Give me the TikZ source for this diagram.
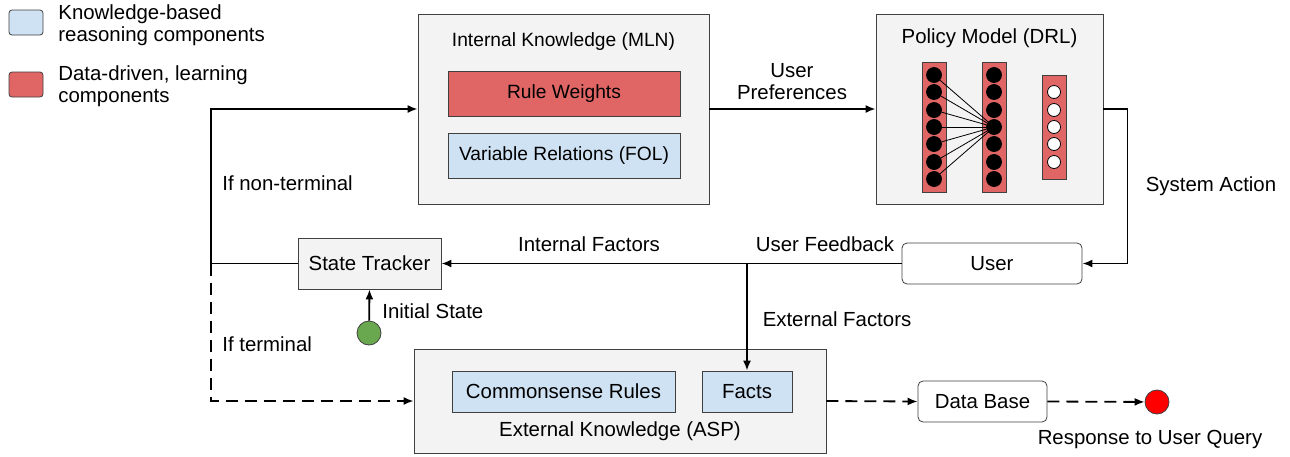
\documentclass[tikz,border=0pt]{standalone}
\usepackage{fontspec}
\setmainfont{Liberation Sans}
\usetikzlibrary{arrows.meta}
\definecolor{panelgray}{HTML}{F3F3F3}
\definecolor{learnred}{HTML}{E06666}
\definecolor{kbblue}{HTML}{CFE2F3}
\definecolor{startgreen}{HTML}{6AA84F}
\definecolor{edgegray}{HTML}{404040}

\begin{document}
\begin{tikzpicture}[x=.5pt,y=-.5pt]
\tikzstyle{every node}=[inner sep=1pt, font=\fontsize{10.2}{11.2}\selectfont]
\tikzstyle{iktext}=[font=\fontsize{9.6}{11}\selectfont]
\tikzstyle{panel}=[draw=edgegray, fill=panelgray, rectangle]
\tikzstyle{redbox}=[draw=edgegray, fill=learnred, rectangle]
\tikzstyle{bluebox}=[draw=edgegray, fill=kbblue, rectangle]
\tikzstyle{endbox}=[draw=edgegray, fill=white, rectangle, rounded corners=2.5pt]
\tikzstyle{hid}=[draw, circle, fill=black, minimum size=7.5pt, inner sep=0pt]
\tikzstyle{outc}=[draw, circle, fill=white, minimum size=6.5pt, inner sep=0pt]
\tikzstyle{arr}=[line width=.9pt, -{Latex[length=5pt,width=4pt]}]
\useasboundingbox (0,0) rectangle (1290,456);
% legend
\draw (26,22.5) node (kbkey) [bluebox, rounded corners=1.5pt, minimum width=17pt, minimum height=12.5pt] {};
\draw (56,25) node (kbtext) [anchor=west, align=left] {Knowledge-based\\reasoning components};
\draw (26,84.5) node (mlkey) [redbox, rounded corners=1.5pt, minimum width=17pt, minimum height=12.5pt] {};
\draw (56,86) node (mltext) [anchor=west, align=left] {Data-driven, learning\\components};
% internal knowledge
\draw (563.5,109) node (ik) [panel, minimum width=145.5pt, minimum height=95pt] {};
\draw (563.5,42) node (iktitle) [iktext] {Internal Knowledge (MLN)};
\draw (564,93.5) node (rw) [redbox, iktext, minimum width=116pt, minimum height=22.5pt] {Rule Weights};
\draw (564,155.5) node (vr) [bluebox, iktext, minimum width=116pt, minimum height=22.5pt] {Variable Relations (FOL)};
% policy model
\draw (989.5,109) node (pm) [panel, minimum width=113.5pt, minimum height=95pt] {};
\draw (989.5,38) node (pmtitle) {Policy Model (DRL)};
\draw (934,127) node (l1) [redbox, minimum width=12pt, minimum height=65pt] {};
\draw (994,127) node (l2) [redbox, minimum width=12pt, minimum height=65pt] {};
\draw (1054,127) node (l3) [redbox, minimum width=12pt, minimum height=52pt] {};
\draw (934,75) node (a1) [hid] {};
\draw (934,92) node (a2) [hid] {};
\draw (934,110) node (a3) [hid] {};
\draw (934,127) node (a4) [hid] {};
\draw (934,144) node (a5) [hid] {};
\draw (934,162) node (a6) [hid] {};
\draw (934,179) node (a7) [hid] {};
\draw (994,75) node (b1) [hid] {};
\draw (994,92) node (b2) [hid] {};
\draw (994,110) node (b3) [hid] {};
\draw (994,127) node (b4) [hid] {};
\draw (994,144) node (b5) [hid] {};
\draw (994,162) node (b6) [hid] {};
\draw (994,179) node (b7) [hid] {};
\draw (1054,92) node (c1) [outc] {};
\draw (1054,110) node (c2) [outc] {};
\draw (1054,127) node (c3) [outc] {};
\draw (1054,144) node (c4) [outc] {};
\draw (1054,162) node (c5) [outc] {};
\draw (a1) -- (b4);
\draw (a2) -- (b4);
\draw (a3) -- (b4);
\draw (a4) -- (b4);
\draw (a5) -- (b4);
\draw (a6) -- (b4);
\draw (a7) -- (b4);
% dialog loop
\draw (369.5,263.5) node (st) [panel, minimum width=71.5pt, minimum height=25.5pt] {State Tracker};
\draw (992,263.5) node (us) [endbox, minimum width=90pt, minimum height=20.5pt] {User};
\draw (369,333) node (init) [draw=edgegray, fill=startgreen, circle, minimum size=12pt, inner sep=0pt] {};
\coordinate (split) at (211,263.5);
% external knowledge
\draw (620,401) node (ek) [panel, minimum width=206pt, minimum height=52pt] {};
\draw (620,431) node (ektitle) {External Knowledge (ASP)};
\draw (563.5,391.5) node (cr) [bluebox, minimum width=111.5pt, minimum height=20.5pt] {Commonsense Rules};
\draw (747,391.5) node (fa) [bluebox, minimum width=45pt, minimum height=20.5pt] {Facts};
\draw (982.5,401.5) node (db) [endbox, minimum width=64.5pt, minimum height=20.5pt] {Data Base};
\draw (1157,402) node (resp) [draw=edgegray, fill=red, circle, minimum size=12pt, inner sep=0pt] {};
% connectors
\draw[arr] (ik.east) -- (pm.west);
\draw (792,81.5) node (uplabel) [align=center] {User\\Preferences};
\draw[arr] (pm.east) -- ++(24,0) |- (us.east);
\draw (1211,186) node (salabel) {System Action};
\draw[arr] (us.west) -- (st.east);
\draw (589,244) node (iflabel) {Internal Factors};
\draw (825,244) node (uflabel) {User Feedback};
\draw[arr] (fa.north |- us.west) -- (fa.north);
\draw (837,319) node (eflabel) {External Factors};
\draw[arr] (st.west) -- (split) |- (ik.west);
\draw (220,183) node (ntlabel) [anchor=west] {If non-terminal};
\draw[arr, dashed, dash pattern=on 6pt off 3.5pt] (split) |- (ek.west);
\draw (220,344) node (tlabel) [anchor=west] {If terminal};
\draw[arr] (init) -- (st.south);
\draw (380,311) node (islabel) [anchor=west] {Initial State};
\draw[arr, dash pattern=on 6pt off 3.5pt] (ek.east) -- (db.west);
\draw[arr, dash pattern=on 6pt off 3.5pt] (db.east) -- (resp);
\draw (1150,439) node (rlabel) {Response to User Query};
\end{tikzpicture}
\end{document}
